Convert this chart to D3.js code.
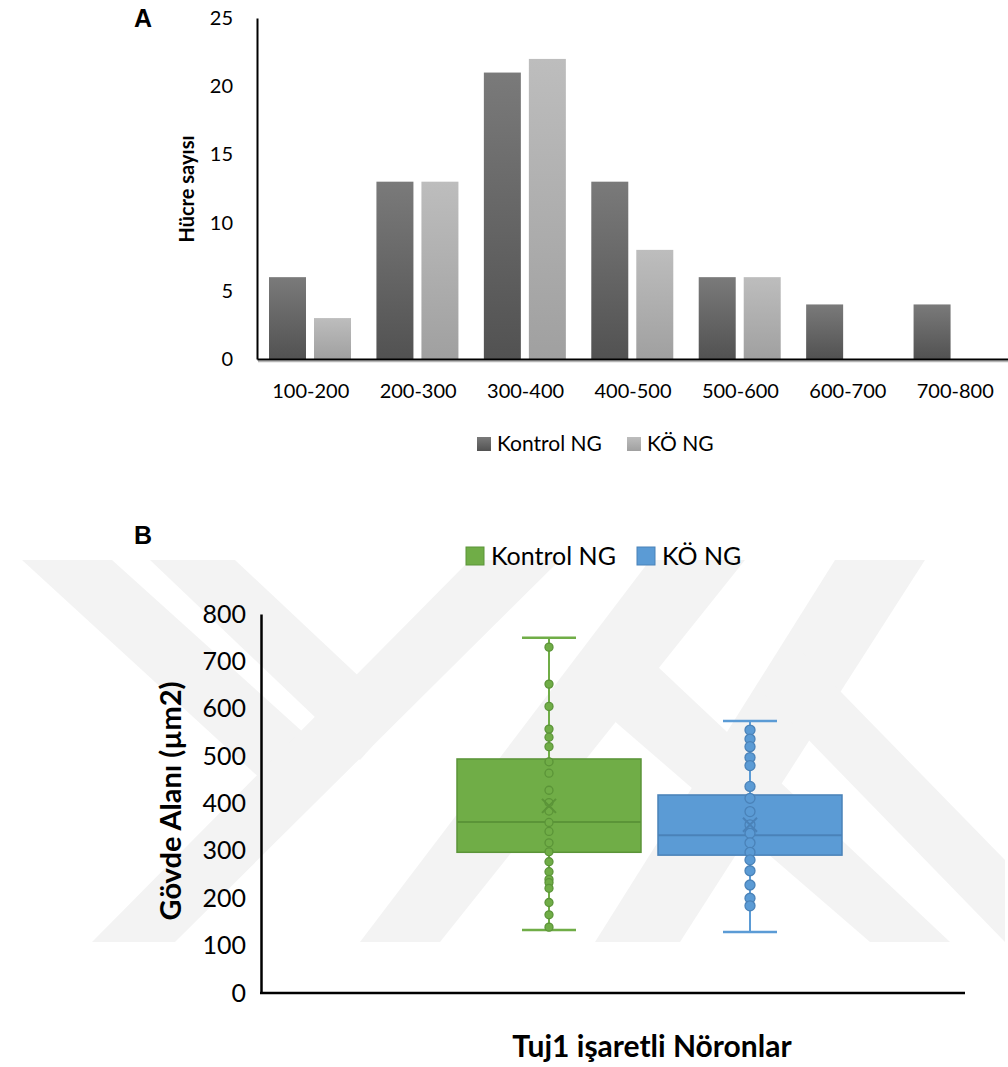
<!DOCTYPE html>
<html>
<head>
<meta charset="utf-8">
<title>Hücre sayısı / Gövde Alanı</title>
<script src="https://cdn.jsdelivr.net/npm/d3@7"></script>
<style>
  body { margin: 0; background: #fff; }
  svg text { fill: #000; }
</style>
</head>
<body>
<div id="chart"></div>
<script>
// --- panel A data (histogram of cell counts)
var categories = ["100-200", "200-300", "300-400", "400-500", "500-600", "600-700", "700-800"];
var seriesNames = ["Kontrol NG", "KÖ NG"];
var kontrolCounts = [6, 13, 21, 13, 6, 4, 4];
var koCounts = [3, 13, 22, 8, 6, 0, 0];
var countTicks = [0, 5, 10, 15, 20, 25];

// --- panel B data (soma area, box plot)
// stats: [min, q1, median, q3, max]
var kontrolStats = [133, 297, 361, 494, 750];
var koStats = [129, 291, 333, 418, 574];
var kontrolMean = 395;
var koMean = 355;
var kontrolPoints = [730, 652, 605, 557, 540, 520, 488, 464, 428, 402, 384, 360, 341, 317, 298, 277, 256, 240, 233, 221, 191, 165, 139];
var koPoints = [555, 536, 520, 497, 480, 436, 411, 383, 355, 337, 317, 297, 281, 258, 228, 200, 184];
var areaTicks = [0, 100, 200, 300, 400, 500, 600, 700, 800];

var W = 1008, H = 1067;
var FONT = "Lato, 'Open Sans', sans-serif";
var svg = d3.select("#chart").append("svg")
  .attr("width", W).attr("height", H)
  .attr("font-family", FONT);

var defs = svg.append("defs");
function grad(id, top, bottom) {
  var g = defs.append("linearGradient").attr("id", id)
    .attr("x1", 0).attr("y1", 0).attr("x2", 0).attr("y2", 1);
  g.append("stop").attr("offset", "0%").attr("stop-color", top);
  g.append("stop").attr("offset", "100%").attr("stop-color", bottom);
}
grad("gDark", "#7a7a7a", "#525252");
grad("gLight", "#bdbdbd", "#a0a0a0");
var barFill = ["url(#gDark)", "url(#gLight)"];

function panelLabel(g, x, y, t) {
  g.append("text").attr("x", x).attr("y", y)
    .attr("font-family", "'Liberation Sans', Arial, sans-serif")
    .attr("font-weight", "bold").attr("font-size", 25)
    .text(t);
}

// ================= PANEL A =================
var yA = d3.scaleLinear().domain([0, 25]).range([359, 18]);
var xA0 = d3.scaleBand().domain(categories).range([257, 1009]).paddingInner(0);
var xA1 = d3.scaleBand().domain(seriesNames).range([12, 94]).paddingInner(0.1778);

var rows = categories.map(function(c, i) {
  return {cat: c, vals: [kontrolCounts[i], koCounts[i]]};
});

var gA = svg.append("g");
gA.selectAll(".grp").data(rows).enter().append("g")
  .attr("transform", function(d) { return "translate(" + xA0(d.cat) + ",0)"; })
  .selectAll("rect")
  .data(function(d) { return d.vals.map(function(v, j) { return {s: seriesNames[j], v: v, j: j}; }); })
  .enter().append("rect")
  .attr("x", function(d) { return xA1(d.s); })
  .attr("y", function(d) { return yA(d.v); })
  .attr("width", xA1.bandwidth())
  .attr("height", function(d) { return yA(0) - yA(d.v); })
  .attr("fill", function(d) { return barFill[d.j]; });

var axA = gA.append("g").attr("transform", "translate(257,0)")
  .call(d3.axisLeft(yA).tickValues(countTicks).tickSize(0).tickPadding(24));
axA.attr("font-family", FONT).attr("font-size", 20);
axA.select(".domain").attr("stroke", "#000").attr("stroke-width", 2);

// x axis shadow + line
gA.append("line").attr("x1", 258).attr("x2", 1008).attr("y1", 361.5).attr("y2", 361.5)
  .attr("stroke", "#b5b5b5").attr("stroke-width", 1.5);
var axAx = gA.append("g").attr("transform", "translate(0,359)")
  .call(d3.axisBottom(xA0).tickSize(0).tickPadding(25));
axAx.attr("font-family", FONT).attr("font-size", 20);
axAx.select(".domain").attr("stroke", "#000").attr("stroke-width", 2);

gA.append("text").attr("transform", "translate(194,189) rotate(-90)")
  .attr("text-anchor", "middle").attr("font-size", 20).attr("font-weight", "bold")
  .text("Hücre sayısı");
panelLabel(gA, 134, 27, "A");

// legend A
var legA = gA.append("g").attr("transform", "translate(477,437)");
var legAx = [0, 150];
seriesNames.forEach(function(s, i) {
  legA.append("rect").attr("x", legAx[i]).attr("y", 0).attr("width", 14).attr("height", 14)
    .attr("fill", barFill[i]);
  legA.append("text").attr("x", legAx[i] + 20).attr("y", 7).attr("dy", "0.35em")
    .attr("font-size", 21).text(s);
});

// ================= PANEL B =================
var gB = svg.append("g");

// watermark
var wm = gB.append("g").attr("fill", "#f3f3f3");
var bands = [
  [[22, 560], [112, 560], [345, 770], [300, 815]],
  [[150, 560], [235, 560], [400, 715], [360, 760]],
  [[470, 560], [560, 560], [175, 942], [92, 942]],
  [[650, 560], [745, 560], [440, 942], [360, 942]],
  [[835, 560], [925, 560], [680, 942], [595, 942]],
  [[590, 700], [640, 650], [950, 942], [870, 942]],
  [[760, 690], [800, 650], [1005, 860], [1005, 942]]
];
wm.selectAll("polygon").data(bands).enter().append("polygon")
  .attr("points", function(d) { return d.map(function(p) { return p.join(","); }).join(" "); });

var yB = d3.scaleLinear().domain([0, 800]).range([993, 614]);
var xB = d3.scaleBand().domain(seriesNames).range([457, 842]).paddingInner(0.0846);

var boxes = [
  {s: seriesNames[0], st: kontrolStats, mean: kontrolMean, pts: kontrolPoints,
   fill: "#70ad47", line: "#5b9438", r: 4},
  {s: seriesNames[1], st: koStats, mean: koMean, pts: koPoints,
   fill: "#5b9bd5", line: "#4a82b8", r: 5}
];

var bw = xB.bandwidth();
boxes.forEach(function(b) {
  var cx = xB(b.s) + bw / 2;
  var g = gB.append("g");
  // whiskers
  g.append("line").attr("x1", cx).attr("x2", cx).attr("y1", yB(b.st[4])).attr("y2", yB(b.st[3]))
    .attr("stroke", b.fill).attr("stroke-width", 2);
  g.append("line").attr("x1", cx).attr("x2", cx).attr("y1", yB(b.st[1])).attr("y2", yB(b.st[0]))
    .attr("stroke", b.fill).attr("stroke-width", 2);
  [b.st[0], b.st[4]].forEach(function(v) {
    g.append("line").attr("x1", cx - 27).attr("x2", cx + 27).attr("y1", yB(v)).attr("y2", yB(v))
      .attr("stroke", b.fill).attr("stroke-width", 2.5);
  });
  // box
  g.append("rect").attr("x", xB(b.s)).attr("y", yB(b.st[3])).attr("width", bw)
    .attr("height", yB(b.st[1]) - yB(b.st[3]))
    .attr("fill", b.fill).attr("stroke", b.line).attr("stroke-width", 1.5);
  g.append("line").attr("x1", xB(b.s)).attr("x2", xB(b.s) + bw)
    .attr("y1", yB(b.st[2])).attr("y2", yB(b.st[2]))
    .attr("stroke", b.line).attr("stroke-width", 2);
  // points
  g.selectAll("circle").data(b.pts).enter().append("circle")
    .attr("cx", cx).attr("cy", function(v) { return yB(v); }).attr("r", b.r)
    .attr("fill", b.fill).attr("stroke", b.line).attr("stroke-width", 1.3);
  // mean marker
  var my = yB(b.mean), m = 7;
  g.append("path").attr("d", "M" + (cx - m) + "," + (my - m) + "L" + (cx + m) + "," + (my + m) +
      "M" + (cx + m) + "," + (my - m) + "L" + (cx - m) + "," + (my + m))
    .attr("stroke", b.line).attr("stroke-width", 2).attr("fill", "none");
});

var axB = gB.append("g").attr("transform", "translate(261,0)")
  .call(d3.axisLeft(yB).tickValues(areaTicks).tickSize(0).tickPadding(15));
axB.attr("font-family", FONT).attr("font-size", 25);
axB.select(".domain").attr("stroke", "#000").attr("stroke-width", 2.5);
gB.append("line").attr("x1", 260).attr("x2", 965).attr("y1", 993).attr("y2", 993)
  .attr("stroke", "#000").attr("stroke-width", 2.5);

gB.append("text").attr("transform", "translate(181,801) rotate(-90)")
  .attr("text-anchor", "middle").attr("font-size", 29).attr("font-weight", "bold")
  .text("Gövde Alanı (µm2)");
gB.append("text").attr("x", 652).attr("y", 1057)
  .attr("text-anchor", "middle").attr("font-size", 30).attr("font-weight", "bold")
  .text("Tuj1 işaretli Nöronlar");
panelLabel(gB, 134, 544, "B");

// legend B
var legB = gB.append("g").attr("transform", "translate(466,547)");
var legBx = [0, 171];
seriesNames.forEach(function(s, i) {
  legB.append("rect").attr("x", legBx[i]).attr("y", 0).attr("width", 18).attr("height", 18)
    .attr("fill", boxes[i].fill).attr("stroke", boxes[i].line).attr("stroke-width", 1);
  legB.append("text").attr("x", legBx[i] + 25).attr("y", 9).attr("dy", "0.35em")
    .attr("font-size", 25).text(s);
});
</script>
</body>
</html>
